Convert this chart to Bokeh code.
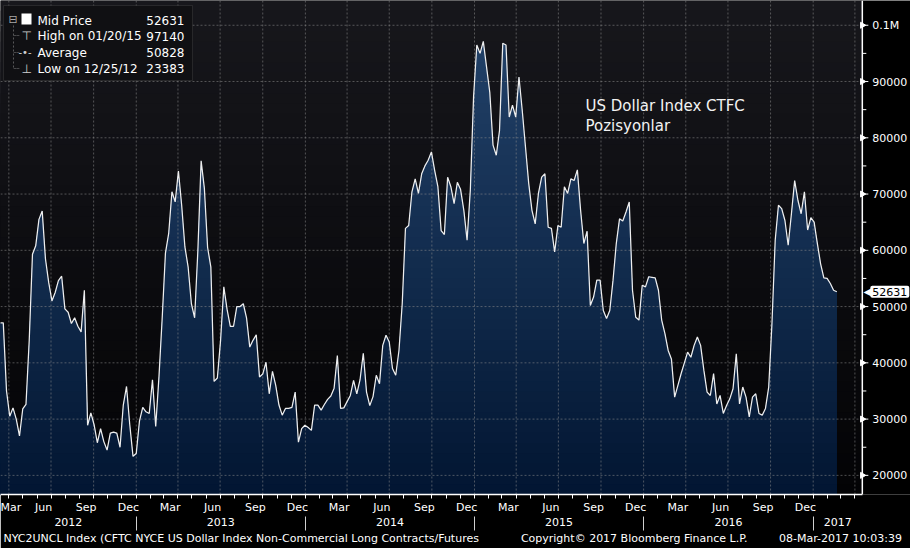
import numpy as np
import pandas as pd
from bokeh.plotting import figure
from bokeh.models import (Range1d, FixedTicker, DatetimeAxis, DatetimeTickFormatter,
                          Label, BoxAnnotation, Title)
from bokeh.core.properties import value
from bokeh.embed import file_html
from bokeh.resources import INLINE

# ---------------- data ----------------
first_report_date = "2012-03-13"      # weekly CFTC reports (Tuesdays)
report_step_days = 7
long_contracts_k = [
    47.1, 47.1, 35.0, 30.5, 32.0, 30.0, 27.0, 31.8, 32.6, 44.0,
    59.3, 60.8, 65.5, 67.0, 58.5, 54.3, 51.0, 52.5, 54.6, 55.4,
    49.6, 49.0, 47.0, 48.0, 46.5, 45.5, 52.9, 28.9, 31.1, 29.0,
    25.8, 28.3, 26.0, 24.5, 27.5, 27.7, 27.5, 25.0, 32.5, 35.8,
    29.0, 23.383, 23.9, 29.7, 32.1, 31.3, 31.0, 37.0, 28.7, 37.5,
    48.0, 59.5, 63.0, 70.4, 68.6, 74.1, 68.0, 60.6, 57.0, 50.5,
    48.0, 60.0, 75.9, 71.0, 60.5, 57.0, 36.7, 37.3, 44.0, 53.5,
    49.5, 46.5, 46.5, 50.0, 50.0, 50.5, 48.0, 42.8, 44.0, 45.0,
    37.5, 38.0, 40.1, 34.5, 38.5, 36.0, 32.5, 30.7, 31.9, 31.9,
    32.1, 34.8, 25.9, 28.3, 28.9, 28.5, 28.0, 32.5, 32.5, 31.6,
    32.6, 33.5, 34.1, 35.5, 41.3, 31.9, 32.0, 33.1, 34.2, 36.9,
    34.5, 37.0, 41.7, 34.8, 32.4, 34.0, 37.8, 36.3, 43.1, 44.9,
    43.7, 39.0, 37.8, 42.2, 50.5, 63.9, 64.4, 70.4, 72.7, 70.1,
    73.6, 75.0, 76.0, 77.5, 74.2, 71.3, 63.5, 62.8, 73.0, 71.3,
    68.3, 72.1, 70.8, 67.1, 61.8, 70.7, 87.3, 96.5, 95.0, 97.14,
    92.6, 88.1, 78.7, 76.9, 81.3, 96.8, 96.5, 83.7, 85.8, 83.7,
    90.8, 84.9, 78.4, 71.9, 67.1, 64.7, 70.1, 73.0, 73.6, 64.1,
    63.9, 59.7, 64.4, 64.1, 71.3, 70.1, 72.7, 72.4, 74.3, 67.1,
    61.2, 63.4, 50.2, 51.7, 54.7, 54.7, 49.3, 47.9, 49.3, 54.7,
    61.2, 65.6, 65.2, 66.8, 68.6, 52.9, 48.1, 47.6, 53.8, 53.5,
    55.3, 55.2, 55.1, 52.9, 47.6, 45.2, 42.2, 40.7, 33.9, 36.0,
    38.1, 40.0, 41.9, 41.0, 43.1, 44.6, 43.1, 38.7, 34.8, 34.2,
    38.1, 32.7, 34.2, 31.0, 32.4, 33.6, 35.4, 41.6, 32.7, 35.7,
    33.9, 30.4, 33.9, 34.5, 31.0, 30.7, 31.9, 35.7, 47.0, 61.8,
    68.0, 67.4, 65.3, 60.9, 66.5, 72.4, 68.9, 66.5, 70.4, 63.6,
    65.8, 65.0, 61.2, 57.6, 55.1, 55.0, 54.1, 52.9, 52.631,
]
last_value = 52631
high_value, high_date = 97140, "01/20/15"
average_value = 50828
low_value, low_date = 23383, "12/25/12"

y_tick_values = [20000, 30000, 40000, 50000, 60000, 70000, 80000, 90000, 100000]
y_tick_labels = ["20000", "30000", "40000", "50000", "60000", "70000", "80000", "90000", "0.1M"]
y_minor_values = [25000, 35000, 45000, 55000, 65000, 75000, 85000, 95000]
month_label_months = [3, 6, 9, 12]
years = [2012, 2013, 2014, 2015, 2016, 2017]

title_lines = ["US Dollar Index CTFC", "Pozisyonlar"]
footer_left = "NYC2UNCL Index (CFTC NYCE US Dollar Index Non-Commercial Long Contracts/Futures"
footer_mid = "Copyright\u00a9 2017 Bloomberg Finance L.P."
footer_right = "08-Mar-2017 10:03:39"
legend_names = ["Mid Price", "High on " + high_date, "Average", "Low on " + low_date]
legend_values = [last_value, high_value, average_value, low_value]

# ---------------- view window ----------------
view_start = pd.Timestamp("2012-03-14")
axis_days = 1860          # where the value axis sits (px 862 of 910)
canvas_days = 1964        # full canvas width
axis_date = view_start + pd.Timedelta(days=axis_days)
view_end = view_start + pd.Timedelta(days=canvas_days)
y_lo, y_hi = 16600, 104400

dates = pd.to_datetime(first_report_date) + pd.to_timedelta(
    np.arange(len(long_contracts_k)) * report_step_days, unit="D")
values = np.array(long_contracts_k) * 1000.0


def ms(t):
    return pd.Timestamp(t).timestamp() * 1000.0


month_starts = [ms(d) for d in pd.date_range("2012-04-01", axis_date, freq="MS")]
quarter_starts = [ms(d) for d in pd.date_range("2012-04-01", axis_date, freq="MS") if d.month in (1, 4, 7, 10)]
label_ticks = []
for yr in years:
    for m in month_label_months:
        t = pd.Timestamp(year=yr, month=m, day=15)
        if t > dates[-1]:
            continue
        # keep the first (clipped) month label inside the window, still in March
        t = max(t, min(view_start + pd.Timedelta(days=18),
                       pd.Timestamp(year=yr, month=m, day=28)))
        label_ticks.append(ms(t))
year_starts = [ms(pd.Timestamp(year=yr, month=1, day=1)) for yr in years[1:]]
year_centers = []
for yr in years:
    a = max(pd.Timestamp(year=yr, month=1, day=1), view_start)
    b = min(pd.Timestamp(year=yr + 1, month=1, day=1), axis_date)
    year_centers.append((ms(a) + ms(b)) / 2)

FONT = "DejaVu Sans"

p = figure(width=910, height=548, x_axis_type="datetime", y_axis_location=None,
           x_range=Range1d(view_start, view_end), y_range=Range1d(y_lo, y_hi),
           output_backend="svg", toolbar_location=None,
           min_border_left=0, min_border_top=0, min_border_right=0, min_border_bottom=54,
           background_fill_color="black", border_fill_color="black", outline_line_color=None)


def mix(c0, c1, t):
    return "#%02x%02x%02x" % tuple(int(round(a + (b - a) * t)) for a, b in zip(c0, c1))


N = 48
edges = np.linspace(y_lo, y_hi, N + 1)
tops = edges[1:][::-1]
mids = ((edges[:-1] + edges[1:]) / 2)[::-1]
bg_top, bg_bot = (23, 23, 28), (3, 3, 5)
fill_top, fill_bot = (36, 68, 108), (2, 22, 50)

# background gradient (plot area only, up to the value axis)
p.quad(left=[view_start] * N, right=[axis_date] * N, bottom=[y_lo] * N, top=list(tops),
       fill_color=[mix(bg_bot, bg_top, (m - y_lo) / (y_hi - y_lo)) for m in mids],
       line_color=None, level="underlay")

# area gradient
vmax = values.max()
drawn_full = False
for top, m in zip(tops, mids):
    if top >= vmax:
        if drawn_full:
            continue
        drawn_full = True
    col = mix(fill_bot, fill_top, (m - y_lo) / (y_hi - y_lo))
    p.varea(x=dates, y1=y_lo, y2=np.minimum(values, top), fill_color=col, level="underlay")

GRID = dict(line_color="#8c8c8c", line_alpha=0.55, line_dash="2 2", line_width=1)
# horizontal grid (stops at value axis)
p.segment(x0=[view_start] * len(y_tick_values), x1=[axis_date] * len(y_tick_values),
          y0=y_tick_values, y1=y_tick_values, **GRID)
# vertical grid at quarter starts
qdates = pd.to_datetime(quarter_starts, unit="ms")
p.segment(x0=qdates, x1=qdates, y0=[y_lo] * len(qdates), y1=[y_hi] * len(qdates), **GRID)
p.xgrid.visible = False
p.ygrid.visible = False

# series line
p.line(dates, values, line_color="#eeeeee", line_width=1.25)

# value axis on the right (drawn through the data scales)
p.segment(x0=[axis_date], x1=[axis_date], y0=[y_lo], y1=[y_hi], line_color="white", line_width=1.5)
p.ray(x=[axis_date] * len(y_tick_values), y=y_tick_values, length=6, length_units="screen",
      angle=0, line_color="white", line_width=1)
p.scatter(x=[axis_date] * len(y_tick_values), y=y_tick_values, marker="triangle", size=6,
          angle=-np.pi / 2, fill_color="white", line_color="white")
p.ray(x=[axis_date] * len(y_minor_values), y=y_minor_values, length=4, length_units="screen",
      angle=0, line_color="white", line_width=1)
p.text(x=[axis_date] * len(y_tick_values), y=y_tick_values, text=y_tick_labels,
       x_offset=10, text_baseline="middle", text_align="left", text_color="white",
       text_font=value(FONT), text_font_size="11px")


def fmt(f):
    return DatetimeTickFormatter(microseconds=f, milliseconds=f, seconds=f, minsec=f, minutes=f,
                                 hourmin=f, hours=f, days=f, months=f, years=f,
                                 boundary_scaling=False)


# x axis: months
xa = p.xaxis[0]
xa.bounds = (ms(view_start), ms(axis_date))
xa.ticker = FixedTicker(ticks=label_ticks, minor_ticks=month_starts)
xa.formatter = fmt("%b")
xa.axis_line_color = "white"
xa.axis_line_width = 1.5
xa.major_tick_line_color = None
xa.major_tick_out = 4
xa.major_tick_in = 0
xa.minor_tick_line_color = "white"
xa.minor_tick_out = 4
xa.minor_tick_in = 0
xa.major_label_standoff = 2
xa.major_label_text_color = "white"
xa.major_label_text_font = FONT
xa.major_label_text_font_size = "11px"

# x axis: years
xa2 = DatetimeAxis(ticker=FixedTicker(ticks=year_centers, minor_ticks=year_starts),
                   formatter=fmt("%Y"), bounds=(ms(view_start), ms(axis_date)))
xa2.axis_line_color = None
xa2.major_tick_line_color = None
xa2.major_tick_out = 0
xa2.major_tick_in = 0
xa2.minor_tick_line_color = "#cfcfcf"
xa2.minor_tick_out = 14
xa2.minor_tick_in = 0
xa2.major_label_standoff = -13
xa2.major_label_text_color = "white"
xa2.major_label_text_font = FONT
xa2.major_label_text_font_size = "11px"
p.add_layout(xa2, "below")

# footer line
NB = "\u00a0"
p.add_layout(Title(text=footer_left + NB * 12 + footer_mid + NB * 9 + footer_right,
                   align="left", offset=3, standoff=2, text_font=FONT, text_font_size="11px",
                   text_font_style="normal", text_color="white"), "below")

# ---------------- annotations (screen px, y measured from frame bottom) ----------------
H = 494


def add_text(x, y_top, text, size="12px", color="white", align="left", **kw):
    p.add_layout(Label(x=x, y=H - y_top, x_units="screen", y_units="screen", text=text,
                       text_font=FONT, text_font_size=size, text_color=color,
                       text_align=align, text_baseline="middle", **kw))


def add_box(left, right, top, bottom, **kw):
    p.add_layout(BoxAnnotation(left=left, right=right, top=H - top, bottom=H - bottom,
                               left_units="screen", right_units="screen",
                               top_units="screen", bottom_units="screen", **kw))


# legend
add_box(3, 192, 5, 80, fill_color="#101013", fill_alpha=1.0, line_color="#5a5a5a", line_width=1)
add_box(21, 31, 13, 24, fill_color="white", fill_alpha=1.0, line_color=None)
add_box(13, 13, 25, 68, fill_alpha=0, line_color="#9a9a9a", line_dash="2 2", line_width=1)
for yy in (35, 52, 68):
    add_box(13, 19, yy, yy, fill_alpha=0, line_color="#9a9a9a", line_dash="2 1", line_width=1)
add_text(8, 19, "\u229f", size="11px", color="#a8a8a8")
add_text(21, 35, "\u22a4", size="12px", color="#d0d0d0")
add_text(18, 52, "-\u2022-", size="10px", color="#d0d0d0")
add_text(21, 68, "\u22a5", size="12px", color="#d0d0d0")
for i, (name, val) in enumerate(zip(legend_names, legend_values)):
    yy = [20, 35.5, 52, 68][i]
    add_text(37, yy, name)
    add_text(184, yy, str(val), align="right")

# title
add_text(585, 105, title_lines[0], size="15px", color="#f2f2f2")
add_text(585, 125, title_lines[1], size="15px", color="#f2f2f2")

# last price tag on the value axis
p.add_layout(Label(x=axis_date, y=last_value, x_offset=8, text=str(last_value),
                   text_font=FONT, text_font_size="11px", text_color="black",
                   text_align="left", text_baseline="middle",
                   background_fill_color="white", padding=2, border_radius=2))
p.add_layout(Label(x=axis_date, y=last_value, x_offset=9, text="\u25c0",
                   text_font=FONT, text_font_size="10px", text_color="white",
                   text_align="right", text_baseline="middle"))

open("out.html", "w").write(file_html(p, INLINE))
